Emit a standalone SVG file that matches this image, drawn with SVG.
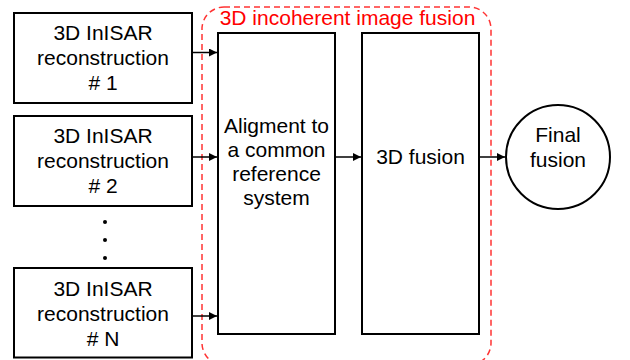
<svg xmlns="http://www.w3.org/2000/svg" width="630" height="360" viewBox="0 0 630 360">
<defs>
<style>
.box{fill:#fff;stroke:#000;stroke-width:2}
.t{font-family:"Liberation Sans",Arial,sans-serif;font-size:21px;fill:#000;text-anchor:middle}
.red{fill:#ff0000}
.con{stroke:#000;stroke-width:1.5;fill:none;marker-end:url(#ah)}
</style>
<marker id="ah" viewBox="0 0 10 10" refX="10" refY="5" markerWidth="8" markerHeight="8" markerUnits="userSpaceOnUse" orient="auto">
<path d="M0,0 L10,5 L0,10 z" fill="#000"/>
</marker>
</defs>
<rect width="630" height="360" fill="#fff"/>
<g id="group-fusion">
<rect x="202" y="7" width="289" height="358" rx="22" ry="22" fill="none" stroke="#ff3333" stroke-width="1.5" stroke-dasharray="6,4"/>
<text class="t red" x="347.5" y="25">3D incoherent image fusion</text>
</g>
<g id="recon1">
<rect class="box" x="14" y="13" width="178" height="90"/>
<text class="t" x="103" y="40">3D InISAR</text>
<text class="t" x="103" y="65">reconstruction</text>
<text class="t" x="103" y="90"># 1</text>
</g>
<g id="recon2">
<rect class="box" x="14" y="116" width="178" height="90"/>
<text class="t" x="103" y="143">3D InISAR</text>
<text class="t" x="103" y="168">reconstruction</text>
<text class="t" x="103" y="193"># 2</text>
</g>
<g id="dots">
<circle cx="105" cy="222" r="2" fill="#000"/>
<circle cx="105" cy="240" r="2" fill="#000"/>
<circle cx="105" cy="258" r="2" fill="#000"/>
</g>
<g id="reconN">
<rect class="box" x="14" y="268" width="178" height="89.5"/>
<text class="t" x="103" y="296">3D InISAR</text>
<text class="t" x="103" y="321">reconstruction</text>
<text class="t" x="103" y="346"># N</text>
</g>
<g id="alignment">
<rect class="box" x="218" y="33" width="117" height="301"/>
<text class="t" x="276.5" y="133">Aligment to</text>
<text class="t" x="276.5" y="157">a common</text>
<text class="t" x="276.5" y="181">reference</text>
<text class="t" x="276.5" y="205">system</text>
</g>
<g id="fusion3d">
<rect class="box" x="362" y="33" width="117" height="301"/>
<text class="t" x="420.5" y="164">3D fusion</text>
</g>
<g id="final">
<circle cx="558" cy="157" r="52" fill="#fff" stroke="#000" stroke-width="2"/>
<text class="t" x="558" y="142">Final</text>
<text class="t" x="558" y="167">fusion</text>
</g>
<g id="connectors">
<line class="con" x1="192" y1="52.5" x2="217" y2="52.5"/>
<line class="con" x1="192" y1="157" x2="217" y2="157"/>
<line class="con" x1="192" y1="316" x2="217" y2="316"/>
<line class="con" x1="335" y1="157" x2="361" y2="157"/>
<line class="con" x1="479" y1="157" x2="505" y2="157"/>
</g>
</svg>
